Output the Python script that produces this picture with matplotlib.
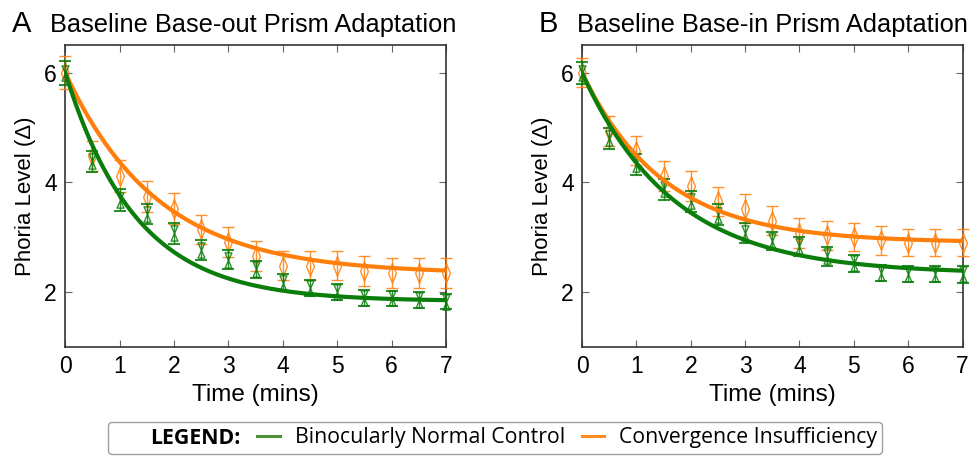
import matplotlib
matplotlib.use("Agg")
import matplotlib.pyplot as plt
from matplotlib.path import Path
from matplotlib.lines import Line2D
import numpy as np

plt.rcParams['font.family'] = ['Liberation Sans', 'DejaVu Sans']

# time points (mins)
t = [0, 0.5, 1, 1.5, 2, 2.5, 3, 3.5, 4, 4.5, 5, 5.5, 6, 6.5, 7]

# panel A: baseline base-out
bo_ctrl = [6.00, 4.38, 3.67, 3.42, 3.07, 2.77, 2.59, 2.41, 2.17, 2.07, 2.00, 1.89, 1.88, 1.85, 1.82]
bo_ctrl_err = [0.22, 0.19, 0.20, 0.19, 0.19, 0.18, 0.17, 0.16, 0.15, 0.15, 0.14, 0.14, 0.14, 0.14, 0.14]
bo_ci = [6.00, 4.48, 4.11, 3.74, 3.52, 3.14, 2.91, 2.65, 2.48, 2.48, 2.48, 2.38, 2.35, 2.35, 2.35]
bo_ci_err = [0.30, 0.27, 0.29, 0.28, 0.28, 0.27, 0.27, 0.27, 0.27, 0.27, 0.27, 0.27, 0.27, 0.27, 0.27]

# panel B: baseline base-in
bi_ctrl = [5.99, 4.80, 4.33, 3.87, 3.65, 3.41, 3.08, 2.93, 2.83, 2.65, 2.52, 2.35, 2.33, 2.33, 2.32]
bi_ctrl_err = [0.20, 0.20, 0.19, 0.19, 0.19, 0.19, 0.18, 0.17, 0.17, 0.17, 0.16, 0.15, 0.15, 0.15, 0.15]
bi_ci = [6.00, 4.94, 4.58, 4.11, 3.93, 3.65, 3.52, 3.30, 3.07, 3.03, 3.00, 2.94, 2.90, 2.90, 2.90]
bi_ci_err = [0.26, 0.27, 0.27, 0.27, 0.27, 0.27, 0.27, 0.27, 0.27, 0.26, 0.25, 0.26, 0.25, 0.25, 0.25]

# exponential fit parameters: (start, plateau, tau)
bo_ctrl_fit = (6.0, 1.83, 1.30)
bo_ci_fit = (6.0, 2.33, 1.70)
bi_ctrl_fit = (6.0, 2.33, 1.68)
bi_ci_fit = (6.0, 2.90, 1.50)

green = '#0a7d0a'
orange = '#ff7f0a'

# marker shapes
diamond = Path([(0, 1), (0.4, 0), (0, -1), (-0.4, 0), (0, 1)],
               [Path.MOVETO, Path.LINETO, Path.LINETO, Path.LINETO, Path.CLOSEPOLY])
hourglass = Path([(-0.45, 1), (0.45, 1), (-0.45, -1), (0.45, -1), (-0.45, 1)],
                 [Path.MOVETO, Path.LINETO, Path.LINETO, Path.LINETO, Path.CLOSEPOLY])

fig = plt.figure(figsize=(9.72, 4.58), dpi=100)
axA = fig.add_axes([65.3/972, 1-346.7/458, 380.7/972, 301.4/458])
axB = fig.add_axes([582.0/972, 1-346.7/458, 380.6/972, 301.4/458])

panels = [
    (axA, "A", "Baseline Base-out Prism Adaptation", bo_ctrl, bo_ctrl_err, bo_ci, bo_ci_err,
     bo_ctrl_fit, bo_ci_fit, -15/380.7),
    (axB, "B", "Baseline Base-in Prism Adaptation", bi_ctrl, bi_ctrl_err, bi_ci, bi_ci_err,
     bi_ctrl_fit, bi_ci_fit, -5/380.6),
]

tt = np.linspace(0, 7, 200)
for ax, letter, title, ctrl, ctrl_err, ci, ci_err, fit_c, fit_i, tx in panels:
    ax.errorbar(t, ci, yerr=ci_err, fmt='none', ecolor=orange, elinewidth=1.0,
                capsize=4, capthick=1.0, alpha=0.85, clip_on=False, zorder=3)
    ax.plot(t, ci, linestyle='none', marker=diamond, markersize=14, markerfacecolor='none',
            markeredgecolor=orange, markeredgewidth=1.0, alpha=0.85, clip_on=False, zorder=3)
    ax.errorbar(t, ctrl, yerr=ctrl_err, fmt='none', ecolor=green, elinewidth=1.0,
                capsize=4, capthick=1.5, alpha=0.85, clip_on=False, zorder=4)
    ax.plot(t, ctrl, linestyle='none', marker=hourglass, markersize=11, markerfacecolor='none',
            markeredgecolor=green, markeredgewidth=1.0, alpha=0.85, clip_on=False, zorder=4)

    a0, c0, tau = fit_i
    ax.plot(tt, c0 + (a0 - c0) * np.exp(-tt / tau), color=orange, lw=3, zorder=5)
    a0, c0, tau = fit_c
    ax.plot(tt, c0 + (a0 - c0) * np.exp(-tt / tau), color=green, lw=3, zorder=5)

    ax.set_xlim(0, 7)
    ax.set_ylim(1, 6.5)
    ax.set_xticks(range(0, 8))
    ax.set_yticks([2, 4, 6])
    ax.tick_params(direction='in', top=True, right=True, length=5, width=0.8,
                   color='#666666', labelsize=16.5, pad=6)
    for s in ax.spines.values():
        s.set_color('#333333')
        s.set_linewidth(1.2)
    ax.set_xlabel("Time (mins)", fontsize=17.5, labelpad=4)
    ax.set_ylabel("Phoria Level (\u0394)", fontsize=16, labelpad=6)

    ax.text(tx, 1.045, title, transform=ax.transAxes, fontsize=18.3, va='baseline', ha='left')
    ax.text(tx - 0.1, 1.045, letter, transform=ax.transAxes, fontsize=21, va='baseline', ha='left')

# legend
blank = Line2D([], [], color='none')
h_ctrl = Line2D([], [], color='#4e8f3a', lw=2.2)
h_ci = Line2D([], [], color='#ff8a1e', lw=2.2)
leg = fig.legend([blank, h_ctrl, h_ci],
                 ["LEGEND:", "Binocularly Normal Control", "Convergence Insufficiency"],
                 ncol=3, loc='center', bbox_to_anchor=(495/972, 1-438/458),
                 handlelength=1.05, handletextpad=0.7, columnspacing=0.8,
                 frameon=True, fancybox=True, edgecolor='#888888', borderpad=0.25,
                 prop={'family': 'Open Sans', 'size': 15.3})
leg.get_frame().set_linewidth(1.0)
leg.get_texts()[0].set_fontweight('bold')

plt.savefig("out.png", dpi=100)
